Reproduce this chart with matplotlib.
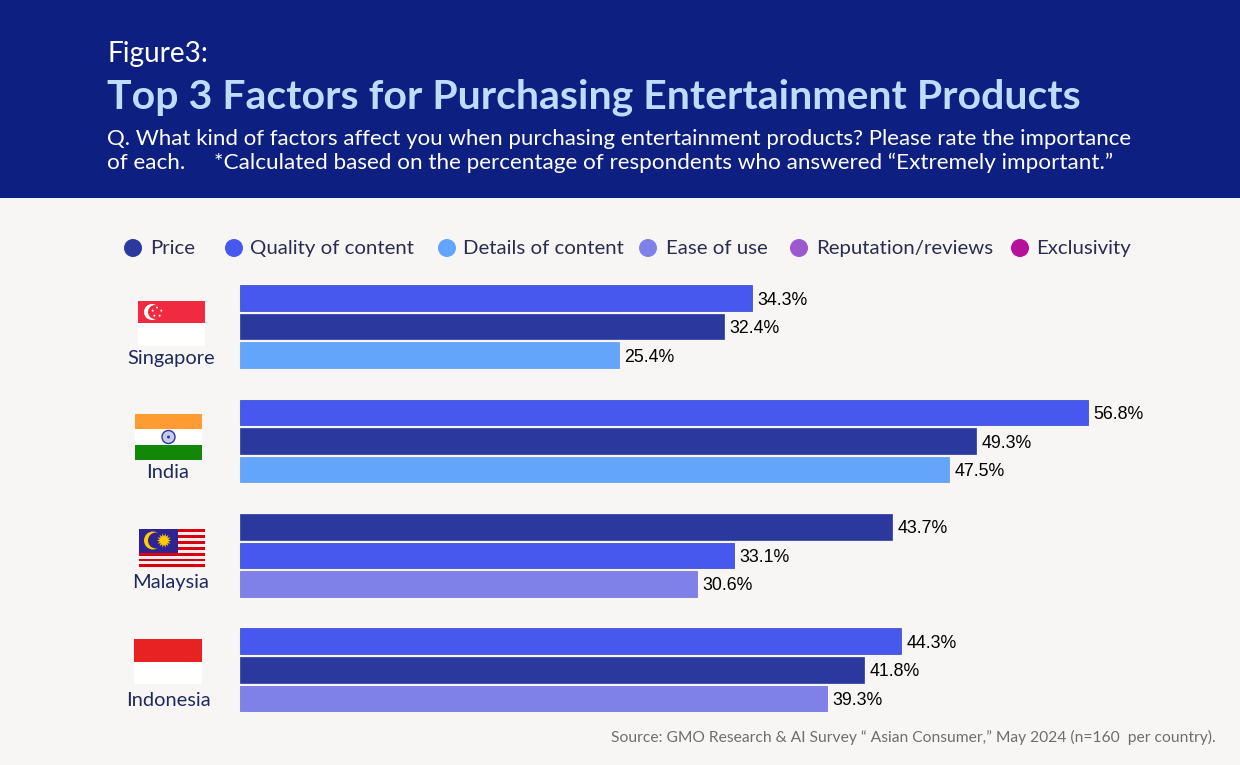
import matplotlib
matplotlib.use('Agg')
import matplotlib.pyplot as plt
from matplotlib.patches import Rectangle, Circle, Polygon
import numpy as np

countries = ['Singapore', 'India', 'Malaysia', 'Indonesia']
factors = ['Price', 'Quality of content', 'Details of content', 'Ease of use', 'Reputation/reviews', 'Exclusivity']
singapore_factors = ['Quality of content', 'Price', 'Details of content']
singapore_values = [34.3, 32.4, 25.4]
india_factors = ['Quality of content', 'Price', 'Details of content']
india_values = [56.8, 49.3, 47.5]
malaysia_factors = ['Price', 'Quality of content', 'Ease of use']
malaysia_values = [43.7, 33.1, 30.6]
indonesia_factors = ['Quality of content', 'Price', 'Ease of use']
indonesia_values = [44.3, 41.8, 39.3]

group_factors = [singapore_factors, india_factors, malaysia_factors, indonesia_factors]
group_values = [singapore_values, india_values, malaysia_values, indonesia_values]

colors = {
    'Price': '#2B389E',
    'Quality of content': '#4658EE',
    'Details of content': '#64A5FC',
    'Ease of use': '#8081E8',
    'Reputation/reviews': '#9B59D0',
    'Exclusivity': '#B5119B',
}
edges = {
    'Price': '#2B389E',
    'Quality of content': '#3342C4',
    'Details of content': '#5A97EE',
    'Ease of use': '#6A6CD6',
}

BG = '#F8F6F5'
HEADER = '#0D1F80'
NAVY = '#1E2A5E'
FONT = 'Lato'
W, H = 1240, 765

fig = plt.figure(figsize=(W / 100, H / 100), dpi=100, facecolor=BG)

# overlay in pixel coordinates for header, legend and flags
ov = fig.add_axes([0, 0, 1, 1])
ov.set_xlim(0, W)
ov.set_ylim(H, 0)
ov.axis('off')


def px(size):
    return size * 0.72


ov.add_patch(Rectangle((0, 0), W, 198, fc=HEADER, ec='none'))
ov.text(107, 62, 'Figure3:', color='white', fontsize=px(28), family=FONT, va='baseline')
ov.text(107, 108, 'Top 3 Factors for Purchasing Entertainment Products', color='#BFDBFE',
        fontsize=px(41), family=FONT, weight='bold', va='baseline')
ov.text(107, 145, 'Q. What kind of factors affect you when purchasing entertainment products? Please rate the importance',
        color='white', fontsize=px(22.3), family=FONT, va='baseline')
ov.text(107, 169, 'of each.     *Calculated based on the percentage of respondents who answered \u201cExtremely important.\u201d',
        color='white', fontsize=px(22.5), family=FONT, va='baseline')

# legend
legend_dots = [133, 234, 447, 648, 799, 1020]
legend_text = [150, 250, 463, 666, 816, 1036]
for name, dx, tx in zip(factors, legend_dots, legend_text):
    ov.add_patch(Circle((dx, 248), 9, fc=colors[name], ec='none'))
    ov.text(tx, 254, name, color='#2A2D4F', fontsize=px(20.4), family=FONT, va='baseline')

# bars
bar_ax = fig.add_axes([240 / W, 0, 1000 / W, 1])
bar_ax.patch.set_alpha(0)
bar_ax.set_xlim(0, 1000 / 14.93)
bar_ax.set_ylim(H, 0)
bar_ax.axis('off')
for i, (names, values) in enumerate(zip(group_factors, group_values)):
    for j, (name, val) in enumerate(zip(names, values)):
        y = 298 + 114.4 * i + 28.6 * j
        bar_ax.barh(y, val, height=25.6, color=colors[name], edgecolor=edges[name], linewidth=0.5)
        bar_ax.text(val + 0.35, y + 2, f'{val}%', color='black', fontsize=px(17.7),
                    family='Liberation Sans', va='center', ha='left')

# country labels
label_x = [171, 168, 171, 168]
label_y = [364, 478, 588, 706]
for name, x, y in zip(countries, label_x, label_y):
    ov.text(x, y, name, color=NAVY, fontsize=px(20), family=FONT, ha='center', va='baseline')

# Singapore flag
ov.add_patch(Rectangle((138, 301), 67, 22, fc='#F02B40', ec='none'))
ov.add_patch(Rectangle((138, 323), 67, 23, fc='white', ec='none'))
ov.add_patch(Circle((152, 312), 8, fc='white', ec='none'))
ov.add_patch(Circle((155, 312), 7, fc='#F02B40', ec='none'))
for a in np.deg2rad([-90, -18, 54, 126, 198]):
    ov.add_patch(Circle((157 + 4.5 * np.cos(a), 312 + 4.5 * np.sin(a)), 1.0, fc='white', ec='none'))

# India flag
ov.add_patch(Rectangle((135, 414), 67, 15, fc='#FF9B33', ec='none'))
ov.add_patch(Rectangle((135, 429), 67, 16, fc='white', ec='none'))
ov.add_patch(Rectangle((135, 445), 67, 15, fc='#138808', ec='none'))
ov.add_patch(Circle((168.5, 437), 6.5, fc='#C9CCE8', ec='#2B389E', lw=1))
ov.add_patch(Circle((168.5, 437), 1.5, fc='#2B389E', ec='none'))

# Malaysia flag
ov.add_patch(Rectangle((139, 529), 66, 39, fc='#EDEDED', ec='none'))
for k in range(7):
    ov.add_patch(Rectangle((139, 529 + k * 5.9), 66, 2.9, fc='#D8000C', ec='none'))
ov.add_patch(Rectangle((139, 529), 39, 23.5, fc='#2F2392', ec='none'))
ov.add_patch(Circle((153, 540.5), 9, fc='#FFCC00', ec='none'))
ov.add_patch(Circle((156, 540.5), 8, fc='#2F2392', ec='none'))
sun = []
for k in range(28):
    r = 7.2 if k % 2 == 0 else 4.2
    a = np.pi * k / 14
    sun.append((164 + r * np.cos(a), 540.5 + r * np.sin(a)))
ov.add_patch(Polygon(sun, fc='#FFCC00', ec='none'))

# Indonesia flag
ov.add_patch(Rectangle((134, 639), 68, 22.5, fc='#E82222', ec='none'))
ov.add_patch(Rectangle((134, 661.5), 68, 22.5, fc='white', ec='none'))

ov.text(1216, 742, 'Source: GMO Research & AI Survey \u201c Asian Consumer,\u201d May 2024 (n=160  per country).',
        color='#6E6E6E', fontsize=px(15.6), family=FONT, ha='right', va='baseline')

fig.savefig('out.png', dpi=100, facecolor=BG)
